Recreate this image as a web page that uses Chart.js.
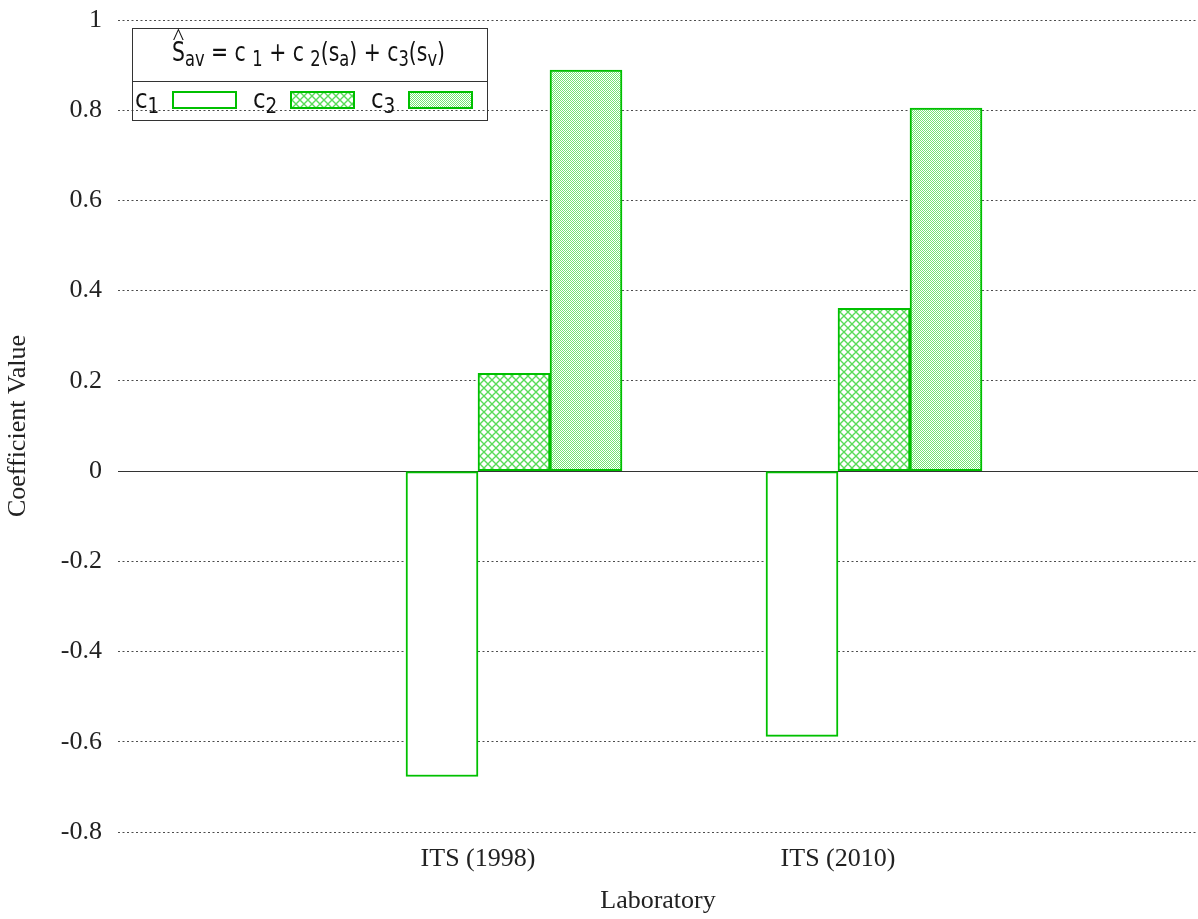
<!DOCTYPE html>
<html>
<head>
<meta charset="utf-8">
<script src="https://cdn.jsdelivr.net/npm/chart.js@4.4.0/dist/chart.umd.min.js"></script>
<style>
  body { margin: 0; background: #fff; }
  #wrap { width: 1198px; height: 919px; }
</style>
</head>
<body>
<div id="wrap"><canvas id="coefChart"></canvas></div>
<script>
// values
const laboratories = ["ITS (1998)", "ITS (2010)"];
const c1Values = [-0.677, -0.588];
const c2Values = [0.217, 0.361];
const c3Values = [0.889, 0.805];
const seriesNames = ["c1", "c2", "c3"];
const yTicks = [-0.8, -0.6, -0.4, -0.2, 0, 0.2, 0.4, 0.6, 0.8, 1];

const green = "#00c000";
const serif = "'Liberation Serif', 'Times New Roman', serif";
const sans = "'DejaVu Sans', sans-serif";

// gnuplot-like fill patterns
function makePattern(kind) {
  const c = document.createElement("canvas");
  const g = c.getContext("2d");
  if (kind === "empty") return "#ffffff";
  if (kind === "cross") {
    c.width = c.height = 8;
    g.fillStyle = "#fff";
    g.fillRect(0, 0, 8, 8);
    g.strokeStyle = "rgba(0,200,0,0.65)";
    g.lineWidth = 1.4;
    g.beginPath();
    g.moveTo(-1, -1); g.lineTo(9, 9);
    g.moveTo(9, -1); g.lineTo(-1, 9);
    g.stroke();
  } else {
    c.width = c.height = 2;
    g.fillStyle = "#fff";
    g.fillRect(0, 0, 2, 2);
    g.fillStyle = "rgba(0,210,0,0.55)";
    g.fillRect(0, 0, 1, 1);
    g.fillRect(1, 1, 1, 1);
  }
  return g.createPattern(c, "repeat");
}

const fills = [makePattern("empty"), makePattern("cross"), makePattern("dense")];
const seriesValues = [c1Values, c2Values, c3Values];
const slot = 0.2; // bar width in category units (3 bars + gap)

const datasets = seriesValues.map((vals, k) => ({
  label: seriesNames[k],
  data: vals.map((v, i) => ({ x: i + (k - 0.5) * slot, y: v })),
  backgroundColor: fills[k],
  borderColor: green,
  borderWidth: 2,
  borderSkipped: false,
  grouped: false,
  barPercentage: 1,
  categoryPercentage: 1
}));

// draw text made of normal and subscript pieces, squeezed horizontally
function drawRich(ctx, x, y, parts, size, squeeze) {
  ctx.save();
  ctx.translate(x, y);
  ctx.scale(squeeze, 1);
  ctx.textBaseline = "alphabetic";
  ctx.textAlign = "left";
  let cx = 0;
  parts.forEach(([txt, sub]) => {
    const s = sub ? size * 0.8 : size;
    ctx.font = s + "px " + sans;
    ctx.fillText(txt, cx, sub ? size * 0.2 : 0);
    cx += ctx.measureText(txt).width;
  });
  ctx.restore();
  return cx * squeeze;
}

function richWidth(ctx, parts, size) {
  let w = 0;
  ctx.save();
  parts.forEach(([txt, sub]) => {
    ctx.font = (sub ? size * 0.8 : size) + "px " + sans;
    w += ctx.measureText(txt).width;
  });
  ctx.restore();
  return w;
}

const zeroLine = {
  id: "zeroLine",
  beforeDatasetsDraw(chart) {
    const { ctx, chartArea } = chart;
    const y = Math.round(chart.scales.y.getPixelForValue(0)) + 0.5;
    ctx.save();
    ctx.strokeStyle = "#333";
    ctx.lineWidth = 1;
    ctx.beginPath();
    ctx.moveTo(chartArea.left, y);
    ctx.lineTo(chartArea.right, y);
    ctx.stroke();
    ctx.restore();
  }
};

const keyBox = {
  id: "keyBox",
  afterDraw(chart) {
    const ctx = chart.ctx;
    const box = { left: 132.5, top: 28.5, right: 487.5, bottom: 120.5, split: 81.5 };
    ctx.save();
    ctx.strokeStyle = "#333";
    ctx.lineWidth = 1;
    ctx.strokeRect(box.left, box.top, box.right - box.left, box.bottom - box.top);
    ctx.beginPath();
    ctx.moveTo(box.left, box.split);
    ctx.lineTo(box.right, box.split);
    ctx.stroke();

    ctx.fillStyle = "#111";
    const size = 27;
    const title = [["S"], ["av", 1], [" = c "], ["1", 1], [" + c "], ["2", 1], ["(s"], ["a", 1],
      [") + c"], ["3", 1], ["(s"], ["v", 1], [")"]];
    const squeeze = 273 / richWidth(ctx, title, size);
    drawRich(ctx, 172, 61, title, size, squeeze);
    // hat over the S
    ctx.font = size + "px " + sans;
    const sW = ctx.measureText("S").width * squeeze;
    ctx.font = "24px " + serif;
    ctx.textAlign = "center";
    ctx.textBaseline = "alphabetic";
    ctx.fillText("^", 172 + sW / 2, 44);

    // entries
    chart.data.datasets.forEach((ds, i) => {
      const x0 = 135 + i * 118;
      drawRich(ctx, x0, 108, [[ds.label[0]], [ds.label.slice(1), 1]], 27, 0.85);
      ctx.fillStyle = ds.backgroundColor;
      ctx.fillRect(x0 + 37, 91, 65, 18);
      ctx.strokeStyle = green;
      ctx.lineWidth = 2;
      ctx.strokeRect(x0 + 38, 92, 63, 16);
      ctx.fillStyle = "#111";
    });
    ctx.restore();
  }
};

new Chart(document.getElementById("coefChart"), {
  type: "bar",
  data: { datasets: datasets },
  options: {
    responsive: true,
    maintainAspectRatio: false,
    animation: false,
    layout: { padding: { top: 20, right: 0, left: 0, bottom: 0 } },
    plugins: {
      legend: { display: false },
      tooltip: { enabled: false }
    },
    scales: {
      x: {
        type: "linear",
        min: -1,
        max: 2,
        offset: false,
        grid: { display: false, drawTicks: false },
        border: { display: false },
        afterBuildTicks: (scale) => {
          scale.ticks = laboratories.map((_, i) => ({ value: i }));
        },
        afterFit: (scale) => {
          scale.height = 87;
          scale.paddingLeft = 0;
          scale.paddingRight = 0;
        },
        ticks: {
          padding: 12,
          maxRotation: 0,
          color: "#222",
          font: { family: serif, size: 26 },
          callback: (v) => laboratories[v]
        },
        title: {
          display: true,
          text: "Laboratory",
          color: "#222",
          font: { family: serif, size: 26 },
          padding: { top: 0, bottom: 2 }
        }
      },
      y: {
        min: -0.8,
        max: 1,
        afterBuildTicks: (scale) => {
          scale.ticks = yTicks.map((v) => ({ value: v }));
        },
        afterFit: (scale) => {
          scale.width = 118;
          scale.paddingTop = 0;
          scale.paddingBottom = 0;
        },
        grid: { color: "rgba(0,0,0,0.7)", lineWidth: 1, drawTicks: false },
        border: { display: false, dash: [2, 2.5] },
        ticks: {
          padding: 16,
          color: "#222",
          font: { family: serif, size: 26 },
          callback: (v) => String(v)
        },
        title: {
          display: true,
          text: "Coefficient Value",
          color: "#222",
          font: { family: serif, size: 26 },
          padding: { top: 3, bottom: 4 }
        }
      }
    }
  },
  plugins: [zeroLine, keyBox]
});
</script>
</body>
</html>
